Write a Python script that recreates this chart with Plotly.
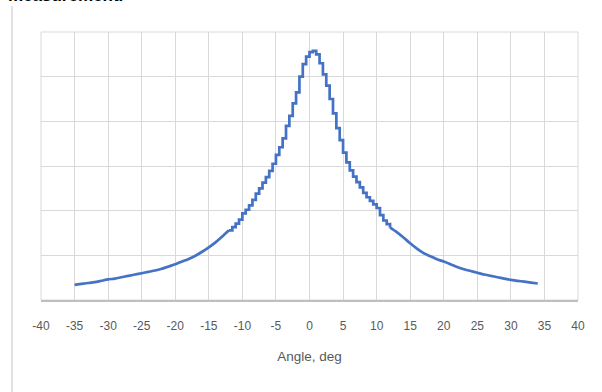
import plotly.graph_objects as go

angle_deg = [-35, -34, -33, -32, -31, -30, -29, -28, -27, -26, -25, -24, -23, -22, -21,
             -20, -19, -18, -17, -16, -15, -14, -13, -12, -11.5, -11, -10.5, -10, -9.5,
             -9, -8.5, -8, -7.5, -7, -6.5, -6, -5.5, -5, -4.5, -4, -3.5, -3, -2.5, -2,
             -1.5, -1, -0.5, 0, 0.5, 1, 1.5, 2, 2.5, 3, 3.5, 4, 4.5, 5, 5.5, 6, 6.5, 7,
             7.5, 8, 8.5, 9, 9.5, 10, 10.5, 11, 11.5, 12, 13, 14, 15, 16, 17, 18, 19, 20,
             21, 22, 23, 24, 25, 26, 27, 28, 29, 30, 31, 32, 33, 34]
signal = [0.34, 0.36, 0.38, 0.40, 0.43, 0.46, 0.48, 0.51, 0.54, 0.57, 0.60, 0.63, 0.66, 0.70, 0.75,
          0.80, 0.86, 0.92, 0.99, 1.08, 1.18, 1.29, 1.42, 1.56, 1.63, 1.71, 1.80, 1.94, 2.02,
          2.12, 2.24, 2.38, 2.50, 2.63, 2.75, 2.89, 3.05, 3.25, 3.42, 3.62, 3.90, 4.12, 4.40, 4.65,
          5.00, 5.28, 5.45, 5.55, 5.58, 5.50, 5.30, 5.05, 4.80, 4.50, 4.18, 3.85, 3.58, 3.30, 3.08, 2.90, 2.76, 2.64,
          2.52, 2.40, 2.30, 2.22, 2.14, 2.06, 1.90, 1.78, 1.70, 1.62, 1.52, 1.40, 1.27, 1.15, 1.05, 0.98, 0.91, 0.86,
          0.80, 0.74, 0.69, 0.65, 0.61, 0.57, 0.54, 0.51, 0.48, 0.45, 0.43, 0.41, 0.39, 0.37]
x_ticks = list(range(-40, 41, 5))

# split: smooth tails, stepped centre (same data)
i0 = angle_deg.index(-12)
i1 = angle_deg.index(12)

line_style = dict(color="#4472C4", width=2.7)
fig = go.Figure()
fig.add_trace(go.Scatter(x=angle_deg[:i0 + 1], y=signal[:i0 + 1], mode="lines",
                         line=dict(**line_style, shape="spline", smoothing=0.6),
                         showlegend=False, hoverinfo="skip"))
fig.add_trace(go.Scatter(x=angle_deg[i0:i1 + 1], y=signal[i0:i1 + 1], mode="lines",
                         line=dict(**line_style, shape="hv"),
                         showlegend=False, hoverinfo="skip"))
fig.add_trace(go.Scatter(x=angle_deg[i1:], y=signal[i1:], mode="lines",
                         line=dict(**line_style, shape="spline", smoothing=0.6),
                         showlegend=False, hoverinfo="skip"))

L, R, T, B = 41, 24, 32, 92
W, H = 602, 392
pw, ph = W - L - R, H - T - B

fig.update_layout(
    width=W, height=H,
    margin=dict(l=L, r=R, t=T, b=B),
    paper_bgcolor="white", plot_bgcolor="white",
    font=dict(family="Liberation Sans, Arial, sans-serif", color="#595959"),
    xaxis=dict(
        range=[-40, 40], tickvals=x_ticks, ticktext=[str(v) for v in x_ticks],
        showgrid=True, gridcolor="#d9d9d9", gridwidth=1,
        zeroline=False, showline=True, linecolor="#bfbfbf", linewidth=1.5,
        mirror=False, ticks="", tickfont=dict(size=12, color="#595959"),
        ticklabelstandoff=14,
        title=dict(text="Angle, deg", font=dict(size=13.5, color="#595959"), standoff=19),
        fixedrange=True,
    ),
    yaxis=dict(
        range=[0, 6], dtick=1, showticklabels=False,
        showgrid=True, gridcolor="#d9d9d9", gridwidth=1,
        zeroline=False, showline=False, ticks="", fixedrange=True,
    ),
    shapes=[
        dict(type="rect", xref="paper", yref="paper", x0=0, x1=1, y0=0, y1=1,
             line=dict(color="#d9d9d9", width=1), layer="below"),
        dict(type="line", xref="paper", yref="paper",
             x0=(12 - L) / pw, x1=(12 - L) / pw,
             y0=(H - B - 6) / ph, y1=(H - B - H - 2) / ph,
             line=dict(color="#d9d9d9", width=1.5)),
    ],
    annotations=[
        dict(text="<b>measurement.</b>", xref="paper", yref="paper",
             x=(6 - L) / pw, xanchor="left",
             y=(H - B - 7) / ph, yanchor="bottom",
             showarrow=False, font=dict(size=17, color="#000000",
                                        family="Liberation Sans, Arial, sans-serif")),
    ],
)

fig.write_html("out.html", config={"displayModeBar": False},
               post_script="document.body.style.margin='0';document.body.style.overflow='hidden';")
